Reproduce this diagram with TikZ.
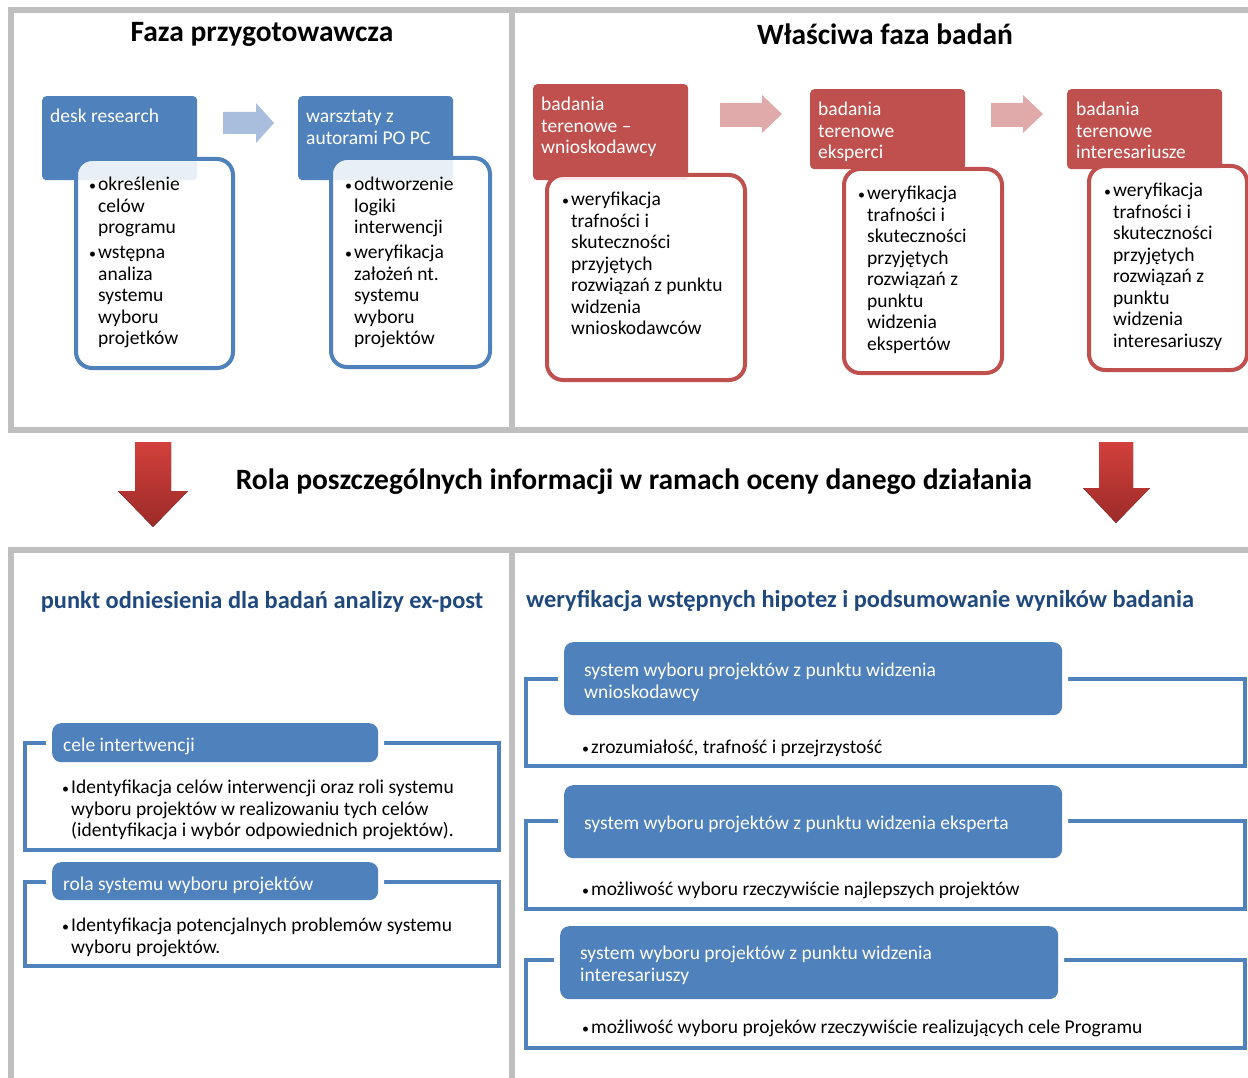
\documentclass[tikz,border=0pt]{standalone}
\usepackage{fontspec}
\setmainfont{Carlito}
\usetikzlibrary{positioning,calc}

\definecolor{hdblue}{HTML}{4F81BD}
\definecolor{hdred}{HTML}{C0504D}
\definecolor{panelgray}{HTML}{BFBFBF}
\definecolor{ttlblue}{HTML}{1F497D}
\definecolor{arrblue}{HTML}{A9BEDC}
\definecolor{arrpink}{HTML}{DFAAA9}
\definecolor{downtop}{HTML}{D2403C}
\definecolor{downbot}{HTML}{9C2B28}

\newcommand{\bul}{\makebox[9pt][l]{\raisebox{0.5pt}{\fontsize{14}{14}\selectfont\textbullet}}}
\newcommand{\ind}{\hspace*{9pt}}

\tikzset{
  txt/.style={font=\fontsize{19.5}{21.5}\selectfont, align=left, anchor=north west, inner sep=0pt},
  hdtxt/.style={txt, text=white},
  ttl/.style={font=\fontsize{29.5}{34}\selectfont\bfseries, inner sep=0pt},
  subttl/.style={font=\fontsize{24.4}{28}\selectfont\bfseries, text=ttlblue, inner sep=0pt},
  hdbox/.style={fill=#1, rounded corners=4pt, anchor=north west, inner sep=0pt},
  itembox/.style={draw=#1, line width=4pt, rounded corners=16pt, fill=white, fill opacity=0.88, anchor=north west, inner sep=0pt},
  panel/.style={draw=panelgray, line width=6pt},
  frm/.style={draw=hdblue, line width=4pt},
  bandhd/.style={fill=hdblue, rounded corners=9pt, anchor=north west, inner sep=0pt, preaction={draw=white, line width=12pt}},
  downarr/.style={top color=downtop, bottom color=downbot, draw=none},
}

\begin{document}
\begin{tikzpicture}[x=1pt,y=-1pt]
	\useasboundingbox[fill=white] (0,0) rectangle (1248,1078);

	% panels
	\draw[panel] (11,10) rectangle (512,430);
	\draw[panel] (512,10) rectangle (1262,430);
	\draw[panel] (11,550) rectangle (512,1092);
	\draw[panel] (512,550) rectangle (1262,1092);

	\node[ttl] (faza1) at (262,34) {Faza przygotowawcza};
	\node[ttl] (faza2) at (885,34) {Właściwa faza badań};

	% faza przygotowawcza
	\node[hdbox=hdblue, minimum width=155pt, minimum height=84pt] (desk) at (42,96) {};
	\node[hdtxt] (desktxt) at (50,109) {desk research};
	\node[itembox=hdblue, minimum width=157pt, minimum height=209pt] (deskitm) at (74,157) {};
	\node[txt] (deskbul) at (89,177) {\bul określenie\\ \ind celów\\ \ind programu\\[3.5pt]
		\bul wstępna\\ \ind analiza\\ \ind systemu\\ \ind wyboru\\ \ind projetków};

	\fill[arrblue] (223,112) -- (256,112) -- (256,103) -- (274,123) -- (256,143) -- (256,134) -- (223,134) -- cycle;

	\node[hdbox=hdblue, minimum width=155pt, minimum height=84pt] (warsz) at (298,96) {};
	\node[hdtxt] (warsztxt) at (306,110) {warsztaty z\\autorami PO PC};
	\node[itembox=hdblue, minimum width=159pt, minimum height=209pt] (warszitm) at (329,156) {};
	\node[txt] (warszbul) at (345,177) {\bul odtworzenie\\ \ind logiki\\ \ind interwencji\\[3.5pt]
		\bul weryfikacja\\ \ind założeń nt.\\ \ind systemu\\ \ind wyboru\\ \ind projektów};

	% wlasciwa faza badan
	\node[hdbox=hdred, minimum width=155pt, minimum height=96pt] (wnio) at (533,84) {};
	\node[hdtxt] (wniotxt) at (541,97) {badania\\terenowe --\\wnioskodawcy};
	\node[itembox=hdred, minimum width=198pt, minimum height=205pt] (wnioitm) at (545,173) {};
	\node[txt] (wniobul) at (562,192) {\bul weryfikacja\\ \ind trafności i\\ \ind skuteczności\\ \ind przyjętych\\
		\ind rozwiązań z punktu\\ \ind widzenia\\ \ind wnioskodawców};

	\fill[arrpink] (720,103) -- (762,103) -- (762,95) -- (782,114) -- (762,133) -- (762,127) -- (720,127) -- cycle;

	\node[hdbox=hdred, minimum width=155pt, minimum height=80pt] (eksp) at (810,89) {};
	\node[hdtxt] (eksptxt) at (818,102) {badania\\terenowe\\eksperci};
	\node[itembox=hdred, minimum width=158pt, minimum height=204pt] (ekspitm) at (842,167) {};
	\node[txt] (ekspbul) at (858,186) {\bul weryfikacja\\ \ind trafności i\\ \ind skuteczności\\ \ind przyjętych\\
		\ind rozwiązań z\\ \ind punktu\\ \ind widzenia\\ \ind ekspertów};

	\fill[arrpink] (991,103) -- (1023,103) -- (1023,95) -- (1043,114) -- (1023,133) -- (1023,127) -- (991,127) -- cycle;

	\node[hdbox=hdred, minimum width=155pt, minimum height=80pt] (inter) at (1067,89) {};
	\node[hdtxt] (intertxt) at (1076,102) {badania\\terenowe\\interesariusze};
	\node[itembox=hdred, minimum width=158pt, minimum height=204pt] (interitm) at (1087,164) {};
	\node[txt] (interbul) at (1104,183) {\bul weryfikacja\\ \ind trafności i\\ \ind skuteczności\\ \ind przyjętych\\
		\ind rozwiązań z\\ \ind punktu\\ \ind widzenia\\ \ind interesariuszy};

	% rola informacji
	\fill[downarr] (135,442) -- (171,442) -- (171,491) -- (188,491) -- (153,527) -- (118,491) -- (135,491) -- cycle;
	\fill[downarr] (1099,442) -- (1133,442) -- (1133,488) -- (1150,488) -- (1116,523) -- (1083,488) -- (1099,488) -- cycle;
	\node[ttl] (rola) at (634,482) {Rola poszczególnych informacji w ramach oceny danego działania};

	% punkt odniesienia
	\node[subttl] (punkt) at (262,602) {punkt odniesienia dla badań analizy ex-post};
	\draw[frm] (25,743) rectangle (499,850);
	\node[bandhd, minimum width=326pt, minimum height=39pt] (cele) at (52,723) {};
	\node[hdtxt] (celetxt) at (63,738) {cele intertwencji};
	\node[txt] (celebul) at (62,780) {\bul Identyfikacja celów interwencji oraz roli systemu\\
		\ind wyboru projektów w realizowaniu tych celów\\ \ind (identyfikacja i wybór odpowiednich projektów).};

	\draw[frm] (25,882) rectangle (499,966);
	\node[bandhd, minimum width=326pt, minimum height=38pt] (rolasys) at (52,862) {};
	\node[hdtxt] (rolasystxt) at (63,877) {rola systemu wyboru projektów};
	\node[txt] (rolasysbul) at (62,918) {\bul Identyfikacja potencjalnych problemów systemu\\ \ind wyboru projektów.};

	% weryfikacja hipotez
	\node[subttl] (weryf) at (860,601) {weryfikacja wstępnych hipotez i podsumowanie wyników badania};
	\draw[frm] (526,679) rectangle (1245,766);
	\node[bandhd, minimum width=498pt, minimum height=73pt] (swnio) at (564,642) {};
	\node[hdtxt] (swniotxt) at (584,663) {system wyboru projektów z punktu widzenia\\wnioskodawcy};
	\node[txt] (swniobul) at (582,740) {\bul zrozumiałość, trafność i przejrzystość};

	\draw[frm] (526,821) rectangle (1245,909);
	\node[bandhd, minimum width=498pt, minimum height=73pt] (seksp) at (564,785) {};
	\node[hdtxt] (seksptxt) at (584,816) {system wyboru projektów z punktu widzenia eksperta};
	\node[txt] (sekspbul) at (582,882) {\bul możliwość wyboru rzeczywiście najlepszych projektów};

	\draw[frm] (526,960) rectangle (1245,1048);
	\node[bandhd, minimum width=498pt, minimum height=73pt] (sinter) at (560,926) {};
	\node[hdtxt] (sintertxt) at (580,946) {system wyboru projektów z punktu widzenia\\interesariuszy};
	\node[txt] (sinterbul) at (582,1020) {\bul możliwość wyboru projeków rzeczywiście realizujących cele Programu};
\end{tikzpicture}
\end{document}
